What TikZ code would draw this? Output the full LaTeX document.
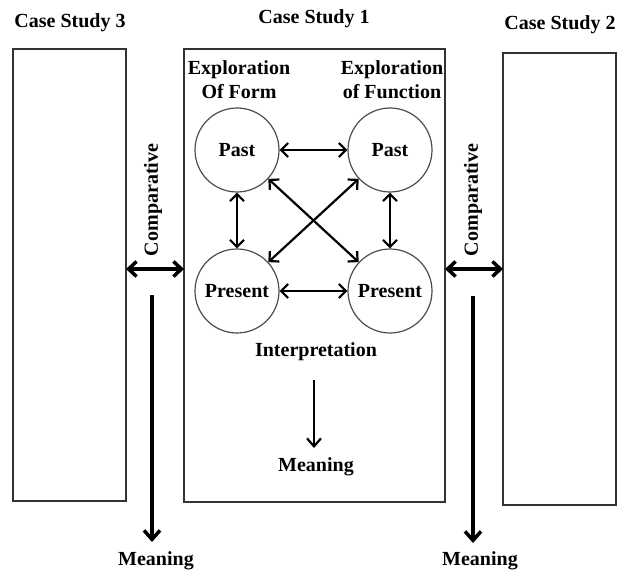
\documentclass[tikz,border=0pt]{standalone}
\usepackage{fontspec}
\setmainfont{Liberation Serif}
\usetikzlibrary{arrows.meta,calc}
\begin{document}
\begin{tikzpicture}[x=1pt,y=-1pt,
  every node/.style={font=\fontsize{20}{24}\selectfont\bfseries, inner sep=0pt},
  casebox/.style={draw=black!80, line width=1.2pt},
  stage/.style={circle, draw=black!70, line width=1.2pt, minimum size=84pt, inner sep=0pt},
  link/.style={line width=2.2pt, {Straight Barb[length=7pt,width=14pt]}-{Straight Barb[length=7pt,width=14pt]}},
  onelink/.style={line width=2.2pt, -{Straight Barb[length=8pt,width=14pt]}},
  cmp/.style={line width=3.5pt, {Straight Barb[length=8pt,width=15pt]}-{Straight Barb[length=8pt,width=15pt]}},
  bigdown/.style={line width=3.5pt, -{Straight Barb[length=9pt,width=16pt]}}]
\useasboundingbox (0,0) rectangle (623,572);
% titles
\node (t3) at (70,23) {Case Study 3};
\node (t1) at (314,19) {Case Study 1};
\node (t2) at (560,25) {Case Study 2};
% boxes
\draw[casebox] (13,49) rectangle (126,501);
\draw[casebox] (184,49) rectangle (445,502);
\draw[casebox] (503,53) rectangle (616,505);
\coordinate (b3e) at (126,269);
\coordinate (b1w) at (184,269);
\coordinate (b1e) at (445,269);
\coordinate (b2w) at (503,269);
% headings
\node[align=center] (ef) at (239,80) {Exploration\\Of Form};
\node[align=center] (efn) at (392,80) {Exploration\\of Function};
% circles
\node[stage] (p1) at (237,150) {Past};
\node[stage] (p2) at (390,150) {Past};
\node[stage] (q1) at (237,291) {Present};
\node[stage] (q2) at (390,291) {Present};
\draw[link] (p1) -- (p2);
\draw[link] (q1) -- (q2);
\draw[link] (p1) -- (q1);
\draw[link] (p2) -- (q2);
\draw[link] (p1) -- (q2);
\draw[link] (p2) -- (q1);
% interpretation
\node (interp) at (316,352) {Interpretation};
\node (mc) at (316,467) {Meaning};
\coordinate (ia) at (314,380);
\coordinate (ib) at (314,448);
\draw[onelink] (ia) -- (ib);
% comparative
\node[rotate=90] (cl) at (153,200) {Comparative};
\node[rotate=90] (cr) at (473,200) {Comparative};
\draw[cmp] (b3e) -- (b1w);
\draw[cmp] (b1e) -- (b2w);
% meaning arrows
\coordinate (la) at (152,295);
\coordinate (lb) at (152,542);
\coordinate (ra) at (473,296);
\coordinate (rb) at (473,543);
\draw[bigdown] (la) -- (lb);
\draw[bigdown] (ra) -- (rb);
\node (ml) at (156,561) {Meaning};
\node (mr) at (480,561) {Meaning};
\end{tikzpicture}
\end{document}
